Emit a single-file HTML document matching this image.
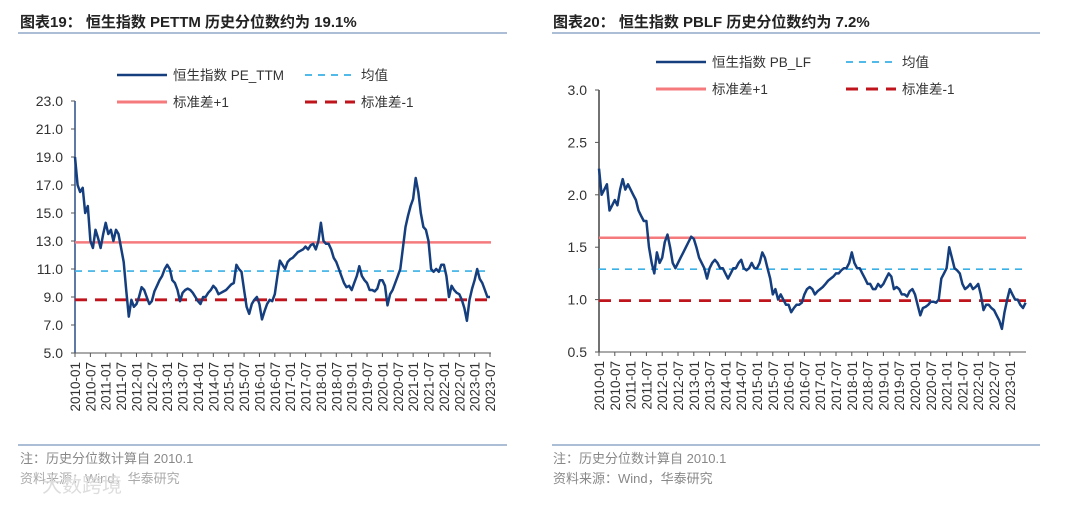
<!DOCTYPE html>
<html><head><meta charset="utf-8"><style>
body{margin:0;background:#fff;width:1080px;height:503px;overflow:hidden}
svg text{font-family:"Liberation Sans","Noto Sans CJK SC",sans-serif}
</style></head><body>
<svg id="s" width="1080" height="503" xmlns="http://www.w3.org/2000/svg">
<text x="20" y="27" font-size="15" font-weight="bold" fill="#222">图表19：  恒生指数 PETTM 历史分位数约为 19.1%</text>
<line x1="18" y1="33" x2="507" y2="33" stroke="#8fa9c8" stroke-width="1.5"/>
<text x="553" y="27" font-size="15" font-weight="bold" fill="#222">图表20：  恒生指数 PBLF 历史分位数约为 7.2%</text>
<line x1="552" y1="33" x2="1040" y2="33" stroke="#8fa9c8" stroke-width="1.5"/>
<line x1="18" y1="445" x2="507" y2="445" stroke="#8fa9c8" stroke-width="1.5"/>
<line x1="552" y1="445" x2="1040" y2="445" stroke="#8fa9c8" stroke-width="1.5"/>
<text x="20" y="463" font-size="13" fill="#888">注：历史分位数计算自 2010.1</text>
<text x="20" y="483" font-size="13" fill="#aaa">资料来源：Wind，华泰研究</text>
<text x="42" y="492" font-size="20" fill="#ddd">大数跨境</text>
<text x="553" y="463" font-size="13" fill="#888">注：历史分位数计算自 2010.1</text>
<text x="553" y="483" font-size="13" fill="#888">资料来源：Wind，华泰研究</text>
</svg>
<script>
const peValues=[19,17,16.5,16.8,15,15.5,13,12.5,13.8,13.2,12.5,13.5,
14.3,13.5,13.8,13,13.8,13.5,12.5,11.5,9.5,7.6,8.8,8.3,
8.5,9.0,9.7,9.5,9.0,8.5,8.7,9.4,9.8,10.2,10.5,11.0,
11.3,11,10.2,10,9.5,8.7,9.3,9.5,9.6,9.5,9.3,9.0,
8.7,8.5,9.0,9.0,9.3,9.5,9.8,9.6,9.2,9.3,9.4,9.5,
9.7,9.9,10.0,11.3,11,10.8,9.5,8.3,7.8,8.5,8.8,9.0,
8.5,7.4,8.0,8.5,8.8,8.7,9.2,10.5,11.6,11.3,11.0,11.5,
11.7,11.8,12.0,12.2,12.3,12.4,12.6,12.4,12.7,12.8,12.4,13.0,
14.3,13.0,12.8,12.8,12.4,11.8,11.5,11.0,10.5,10,9.7,9.8,
9.5,10,10.5,11.2,10.5,10.2,10,9.5,9.5,9.4,9.6,10.2,
10.2,9.8,8.4,9.2,9.5,10.0,10.5,11.0,12.5,14.0,14.8,15.5,
16.0,17.5,16.5,15.0,14.0,13.8,13.0,11.0,10.8,11.0,10.8,11.3,
11.3,10.5,9.0,9.8,9.5,9.3,9.2,8.8,8.2,7.3,8.8,9.6,
10.2,11.0,10.3,10.0,9.5,9.0,9.0];
const peStats=[12.9,10.85,8.8];
const peTicks=[5,7,9,11,13,15,17,19,21,23];
const pbValues=[2.25,2.0,2.05,2.1,1.85,1.9,1.95,1.9,2.05,2.15,2.05,2.1,
2.05,2.0,1.95,1.85,1.8,1.75,1.75,1.5,1.35,1.25,1.45,1.35,
1.4,1.55,1.62,1.5,1.35,1.3,1.35,1.4,1.45,1.5,1.55,1.6,
1.58,1.5,1.4,1.35,1.3,1.2,1.3,1.35,1.38,1.35,1.3,1.3,
1.25,1.2,1.25,1.3,1.3,1.35,1.38,1.3,1.28,1.3,1.35,1.3,
1.3,1.35,1.45,1.4,1.3,1.2,1.05,1.1,1.0,1.05,1.0,0.95,
0.95,0.88,0.92,0.95,0.95,0.97,1.05,1.1,1.12,1.1,1.05,1.08,
1.1,1.12,1.15,1.18,1.2,1.22,1.25,1.25,1.28,1.3,1.3,1.35,
1.45,1.35,1.3,1.3,1.25,1.2,1.15,1.15,1.1,1.1,1.15,1.12,
1.15,1.2,1.25,1.22,1.1,1.12,1.1,1.05,1.05,1.03,1.08,1.1,
1.05,0.95,0.85,0.92,0.93,0.95,0.98,0.98,0.97,1.0,1.2,1.25,
1.3,1.5,1.4,1.3,1.28,1.25,1.15,1.1,1.12,1.15,1.1,1.12,
1.15,1.05,0.9,0.95,0.95,0.92,0.9,0.85,0.8,0.72,0.88,1.0,
1.1,1.05,1.0,1.0,0.95,0.92,0.97];
const pbStats=[1.59,1.29,0.99];
const pbTicks=[0.5,1.0,1.5,2.0,2.5,3.0];
const leftDates=[];for(let y=2010;y<=2023;y++){leftDates.push(y+'-01');leftDates.push(y+'-07');}
const rightDates=leftDates.slice(0,27);

const svg=document.getElementById('s');const NS='http://www.w3.org/2000/svg';
function mk(t,a){const e=document.createElementNS(NS,t);for(const k in a)e.setAttribute(k,a[k]);svg.appendChild(e);return e;}
function chart(c){
  const X=i=>c.x0+i*c.step/6;
  const Y=v=>c.yb-(v-c.vmin)/(c.vmax-c.vmin)*(c.yb-c.yt);
  const xe=c.xEnd;
  // y axis
  let e=mk('line',{x1:c.x0,y1:c.yt,x2:c.x0,y2:c.yb,stroke:c.axisColor,'stroke-width':1.5});
  
  e=mk('line',{x1:c.x0,y1:c.yb,x2:xe,y2:c.yb,stroke:'#555','stroke-width':1});
  
  c.ticks.forEach(t=>{
    const y=Y(t);
    let l=mk('line',{x1:c.x0-4,y1:y,x2:c.x0,y2:y,stroke:'#555'});
    
    const tx=mk('text',{x:c.x0-12,y:y+5,'font-size':14,'text-anchor':'end',fill:'#333'});tx.textContent=t.toFixed(1);
    
  });
  c.dates.forEach((d,k)=>{
    const x=X(k*6);
    let l=mk('line',{x1:x,y1:c.yb,x2:x,y2:c.yb+4,stroke:'#555'});
    
    const tx=mk('text',{x:0,y:0,'font-size':13.5,'text-anchor':'end',fill:'#333',transform:`translate(${x+5},${c.yb+9}) rotate(-90)`});tx.textContent=d;
    
  });
  const st=[{col:'#f47a7c',dash:'',w:2.5,n:'plus-1sd-line'},{col:'#39b0e6',dash:'7 6',w:1.6,n:'mean-line'},{col:'#c0141c',dash:'12 8',w:2.8,n:'minus-1sd-line'}];
  c.stats.forEach((v,k)=>{
    const l=mk('line',{x1:c.x0,y1:Y(v),x2:xe,y2:Y(v),stroke:st[k].col,'stroke-width':st[k].w,'stroke-dasharray':st[k].dash});
    
  });
  const pts=c.vals.map((v,i)=>X(i).toFixed(1)+','+Y(v).toFixed(1)).join(' ');
  const pl=mk('polyline',{points:pts,fill:'none',stroke:'#153e7e','stroke-width':2.5,'stroke-linejoin':'round'});
  
  // legend
  const L=c.leg;
  const items=[{x:L.x1,y:L.y1,col:'#153e7e',dash:'',w:2.5,t:c.name,n:'legend-series'},
    {x:L.x2,y:L.y1,col:'#39b0e6',dash:'7 6',w:1.8,t:'均值',n:'legend-mean'},
    {x:L.x1,y:L.y2,col:'#f47a7c',dash:'',w:3,t:'标准差+1',n:'legend-plus-1sd'},
    {x:L.x2,y:L.y2,col:'#c0141c',dash:'12 8',w:3,t:'标准差-1',n:'legend-minus-1sd'}];
  items.forEach(it=>{
    const l=mk('line',{x1:it.x,y1:it.y,x2:it.x+50,y2:it.y,stroke:it.col,'stroke-width':it.w,'stroke-dasharray':it.dash});
    
    const tx=mk('text',{x:it.x+56,y:it.y+5,'font-size':13.5,fill:'#333'});tx.textContent=it.t;
    
  });
}
chart({p:'left',x0:75,step:15.37,xEnd:491,yt:101,yb:353,vmin:5,vmax:23,ticks:peTicks,dates:leftDates,stats:peStats,vals:peValues,axisColor:'#2a4f8a',name:'恒生指数 PE_TTM',leg:{x1:117,x2:305,y1:75,y2:102}});
chart({p:'right',x0:599,step:15.8,xEnd:1026,yt:90,yb:352,vmin:0.5,vmax:3.0,ticks:pbTicks,dates:rightDates,stats:pbStats,vals:pbValues,axisColor:'#444',name:'恒生指数 PB_LF',leg:{x1:656,x2:846,y1:62,y2:89}});
</script>
</body></html>
